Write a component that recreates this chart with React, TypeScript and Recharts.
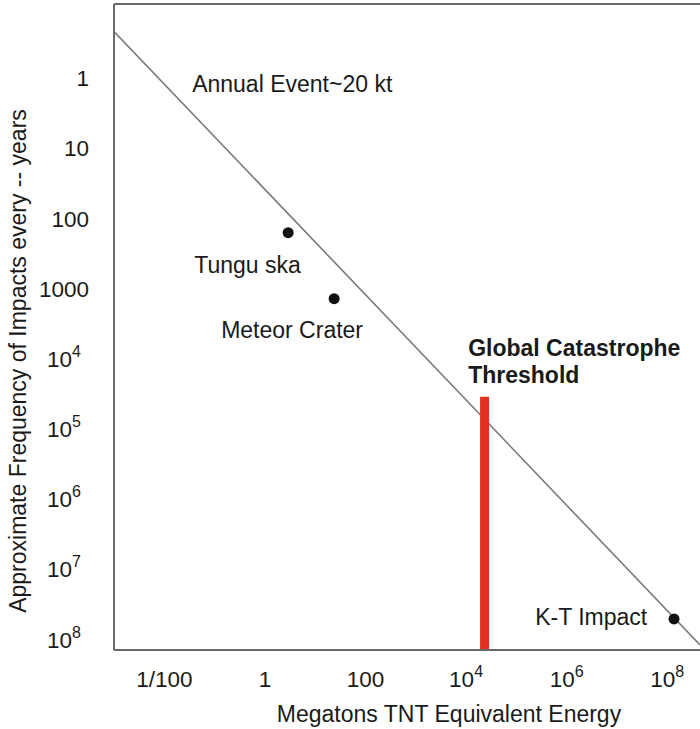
import React from 'react';
import { ComposedChart, Line, Scatter, XAxis, YAxis, ReferenceDot, ReferenceLine } from 'recharts';

// energy in megatons, frequency in "once every N years"
const energyTicks = [0.01, 1, 100, 1e4, 1e6, 1e8];
const energyTickLabels = [['1/100', ''], ['1', ''], ['100', ''], ['10', '4'], ['10', '6'], ['10', '8']];
const yearTicks = [1, 10, 100, 1000, 1e4, 1e5, 1e6, 1e7, 1e8];
const yearTickLabels = [['1', ''], ['10', ''], ['100', ''], ['1000', ''], ['10', '4'], ['10', '5'], ['10', '6'], ['10', '7'], ['10', '8']];

const energyDomain = [1e-3, 4.47e8];
const yearDomain = [0.0877, 1.41e8];

const trendLine = [
  { energy: 1e-3, years: 0.216 },
  { energy: 4.47e8, years: 1.19e8 },
];

const impacts = [
  { name: 'Tunguska', energy: 2.9, years: 159 },
  { name: 'Meteor Crater', energy: 23.8, years: 1390 },
  { name: 'K-T Impact', energy: 1.36e8, years: 5.08e7 },
];

const threshold = [
  { energy: 2.33e4, years: 3.47e4 },
  { energy: 2.33e4, years: 1.41e8 },
];

// text notes, anchored at the start of their baseline
const notes = [
  { text: 'Annual Event~20 kt', energy: 0.0358, years: 1.6, bold: false },
  { text: 'Tungu ska', energy: 0.0393, years: 592, bold: false },
  { text: 'Meteor Crater', energy: 0.135, years: 5000, bold: false },
  { text: 'Global Catastrophe', energy: 1.1e4, years: 9035, bold: true },
  { text: 'Threshold', energy: 1.1e4, years: 21900, bold: true },
  { text: 'K-T Impact', energy: 2.36e5, years: 6.2e7, bold: false },
];

const FONT = '"Liberation Sans", Arial, Helvetica, sans-serif';
const AXIS = '#6a6a6a';
const TEXT = '#1a1a1a';

const XTick = ({ x, y, payload }) => {
  const i = energyTicks.indexOf(payload.value);
  const [base, exp] = energyTickLabels[i] || [String(payload.value), ''];
  return (
    <text x={x} y={y + 37} textAnchor="middle" fontSize={22.5} fill={TEXT} fontFamily={FONT}>
      {base}
      {exp && <tspan fontSize={16} dy={-10}>{exp}</tspan>}
    </text>
  );
};

const YTick = ({ x, y, payload }) => {
  const i = yearTicks.indexOf(payload.value);
  const [base, exp] = yearTickLabels[i] || [String(payload.value), ''];
  return (
    <text x={exp ? x - 33 : x - 25} y={y + 8} textAnchor="end" fontSize={22.5} fill={TEXT} fontFamily={FONT}>
      {base}
      {exp && <tspan fontSize={16} dy={-10}>{exp}</tspan>}
    </text>
  );
};

const YTitle = ({ viewBox }) => {
  const cx = viewBox.x + 18;
  const cy = 361;
  return (
    <text x={cx} y={cy} transform={`rotate(-90 ${cx} ${cy})`} textAnchor="middle" dominantBaseline="central"
      fontSize={23} fill={TEXT} fontFamily={FONT}>
      Approximate Frequency of Impacts every -- years
    </text>
  );
};

const XTitle = () => (
  <text x={449} y={722} textAnchor="middle" fontSize={23} fill={TEXT} fontFamily={FONT}>
    Megatons TNT Equivalent Energy
  </text>
);

const App = () => {
  return (
    <div style={{ position: 'absolute', left: 0, top: 0, width: 700, height: 729, background: '#fff' }}>
      <ComposedChart width={700} height={729} margin={{ top: 4, right: 0, bottom: 0, left: 0 }}>
        <XAxis
          dataKey="energy"
          type="number"
          scale="log"
          domain={energyDomain}
          allowDataOverflow
          ticks={energyTicks}
          tick={<XTick />}
          tickLine={false}
          tickSize={0}
          tickMargin={0}
          height={79}
          interval={0}
          axisLine={{ stroke: AXIS, strokeWidth: 2 }}
          label={<XTitle />}
        />
        <YAxis
          dataKey="years"
          type="number"
          scale="log"
          reversed
          domain={yearDomain}
          allowDataOverflow
          ticks={yearTicks}
          tick={<YTick />}
          tickLine={false}
          tickSize={0}
          tickMargin={0}
          width={114}
          interval={0}
          axisLine={{ stroke: AXIS, strokeWidth: 2 }}
          label={<YTitle />}
        />
        {/* top edge of the frame */}
        <ReferenceLine y={yearDomain[0]} stroke={AXIS} strokeWidth={2} ifOverflow="visible" />
        <Line
          data={trendLine}
          dataKey="years"
          stroke="#7a7a7a"
          strokeWidth={1.6}
          dot={false}
          isAnimationActive={false}
        />
        <Line
          data={threshold}
          dataKey="years"
          stroke="#e2321f"
          strokeWidth={9}
          strokeLinecap="butt"
          dot={false}
          isAnimationActive={false}
        />
        <Scatter
          data={impacts}
          dataKey="years"
          fill="#111"
          isAnimationActive={false}
          shape={(p) => <circle cx={p.cx} cy={p.cy} r={5.5} fill="#111" />}
        />
        {notes.map((n) => (
          <ReferenceDot
            key={n.text}
            x={n.energy}
            y={n.years}
            r={0}
            shape={(p) => (
              <text x={p.cx} y={p.cy} fontSize={23} fontWeight={n.bold ? 'bold' : 'normal'} fill={TEXT} fontFamily={FONT}>
                {n.text}
              </text>
            )}
          />
        ))}
      </ComposedChart>
    </div>
  );
};

export default App;
